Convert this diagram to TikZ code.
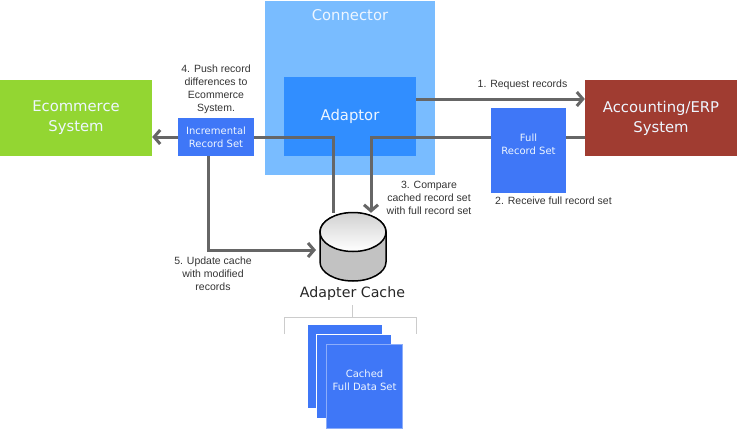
\documentclass[tikz,border=0pt]{standalone}
\usepackage{fontspec}
\setmainfont{Liberation Sans}
\newfontfamily\boxfont{DejaVu Sans}
\usetikzlibrary{arrows.meta, positioning}
\definecolor{connectorblue}{HTML}{79BCFF}
\definecolor{adaptorblue}{HTML}{318EFF}
\definecolor{recordblue}{HTML}{3F77F7}
\definecolor{ecomgreen}{HTML}{93D632}
\definecolor{erpred}{HTML}{A03C31}
\definecolor{boxtext}{HTML}{EEF6FF}
\definecolor{linegray}{HTML}{666666}
\tikzstyle{bigtext} = [text=boxtext, align=center, font=\boxfont\fontsize{14.8}{20}\selectfont]
\tikzstyle{system} = [rectangle, minimum width=152pt, minimum height=76pt, inner sep=0pt, bigtext]
\tikzstyle{recordset} = [rectangle, inner sep=0pt, fill=recordblue, text=boxtext, align=center, font=\boxfont\fontsize{10}{13}\selectfont]
\tikzstyle{page} = [recordset, minimum width=75pt, minimum height=84pt, draw=white, line width=0.8pt]
\tikzstyle{note} = [align=center, text=black!80, font=\fontsize{10.5}{12.8}\selectfont]
\tikzstyle{arrow} = [line width=3pt, draw=linegray, -{Straight Barb[length=6pt,width=14pt]}]
\tikzstyle{link} = [line width=3pt, draw=linegray]
\tikzstyle{bracket} = [line width=0.9pt, draw=black!20]
\tikzstyle{wall} = [draw=black, line width=1.5pt]

\begin{document}
\begin{tikzpicture}[x=1pt, y=-1pt]
\useasboundingbox (0,0) rectangle (737,429);

\node (connector) [rectangle, minimum width=170pt, minimum height=174pt, inner sep=0pt, fill=connectorblue] at (350,88) {};
\node (connectorname) [bigtext, below=5pt of connector.north] {Connector};
\node (adaptor) [rectangle, minimum width=132pt, minimum height=79pt, inner sep=0pt, fill=adaptorblue, bigtext] at (350,116.5) {Adaptor};

\node (ecommerce) [system, fill=ecomgreen] at (76,118) {Ecommerce\\System};
\node (erp) [system, fill=erpred] at (661,118) {Accounting/ERP\\System};
\node (full) [recordset, minimum width=75pt, minimum height=85pt] at (528.5,150.5) {Full\\Record Set\\ \mbox{}};
\node (incremental) [recordset, minimum width=76pt, minimum height=38pt] at (216,137) {Incremental\\Record Set};

% cache drum
\node (cache) [minimum width=66pt, minimum height=68pt, inner sep=0pt] at (353,247) {};
\draw [wall, left color=black!24, middle color=black!8, right color=black!24] (320,232) -- (320,262) arc (180:360:33pt and 19pt) -- (386,232) arc (0:180:33pt and 19pt);
\draw [wall, top color=black!18, bottom color=white] (353,232) ellipse (33pt and 19.5pt);
\node (cachename) [font=\boxfont\fontsize{14.2}{16}\selectfont, text=black!85] at (352.5,294) {Adapter Cache};

\node (page1) [page] at (344.5,366) {};
\node (page2) [page, below right=-74.5pt and -66.5pt of page1] {};
\node (page3) [page, minimum width=76pt, below right=-74.5pt and -65.5pt of page2, draw=recordblue!60!white] {Cached\\Full Data Set\\ \mbox{}};

\node (note1) [note] at (522.5,85) {1. Request records};
\node (note2) [note] at (553.5,201) {2. Receive full record set};
\node (note3) [note] at (429,198) {3. Compare\\cached record set\\with full record set};
\node (note4) [note, above=1pt of incremental] {4. Push record\\differences to\\Ecommerce\\System.};
\node (note5) [note] at (213,274) {5. Update cache\\with modified\\records};

\coordinate (reqstart) at (416,99);
\coordinate (diffleft) at (254,137);
\coordinate (diffdown) at (333,137);
\coordinate (fullleft) at (491,137);
\coordinate (fulldown) at (371,137);
\coordinate (updatestart) at (208,156);
\coordinate (updatecorner) at (208,250);
\coordinate (updateend) at (316,250);

\draw [arrow] (reqstart) -- (reqstart -| erp.west);
\draw [link] (erp.west |- fullleft) -- (full.east |- fullleft);
\draw [arrow] (fullleft) -- (fulldown) -- (fulldown |- cache.north);
\draw [link] (diffleft) -- (diffdown) -- (diffdown |- cache.north);
\draw [arrow] (incremental.west) -- (ecommerce.east |- incremental.west);
\draw [arrow] (updatestart) -- (updatecorner) -- (updateend);

\draw [bracket] (cachename.south |- 0,305) -- (cachename.south |- 0,317);
\draw [bracket] (284,334) -- (284,317) -- (416,317) -- (416,334);

\end{tikzpicture}
\end{document}
